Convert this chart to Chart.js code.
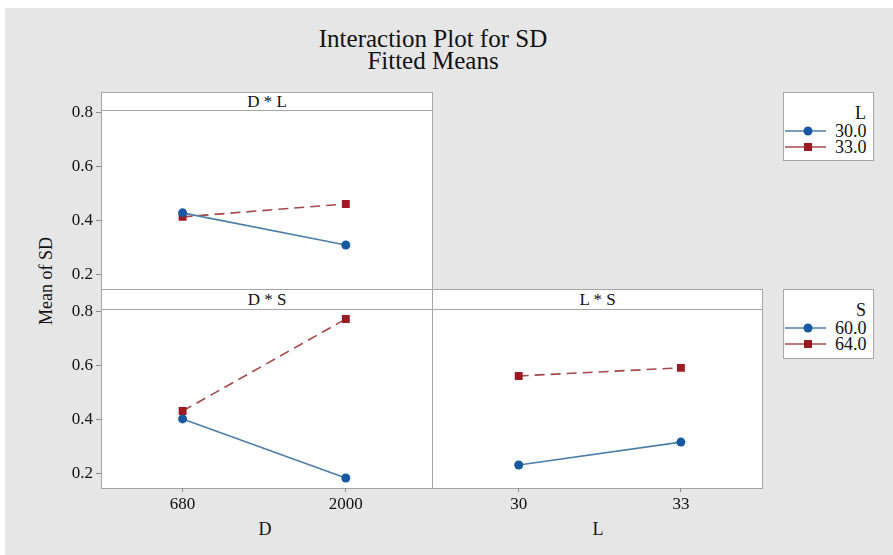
<!DOCTYPE html>
<html>
<head>
<meta charset="utf-8">
<script src="https://cdn.jsdelivr.net/npm/chart.js@4.4.1/dist/chart.umd.min.js"></script>
<style>
  body { margin: 0; background: #fff; font-family: "Liberation Serif", "Times New Roman", serif; color: #111; }
  .abs { position: absolute; }
  #bg { left: 5px; top: 8px; width: 888px; height: 547px; background: #e6e6e6; }
  .frame { background: #fff; border: 1px solid #a6a6a6; box-sizing: border-box; }
  .strip { background: #fff; border: 1px solid #a6a6a6; box-sizing: border-box; text-align: center; font-size: 17px; line-height: 17px; }
  .lab { font-size: 18px; text-align: center; }
  .legend { background: #fff; border: 1px solid #a6a6a6; box-sizing: border-box; font-size: 18px; }
  .legend .ttl { position: absolute; right: 7px; top: 11px; line-height: 18px; }
  .legend .item { position: absolute; left: 0; height: 16px; line-height: 16px; }
  .legend svg { position: absolute; left: 1px; top: 0; }
  .legend span { position: absolute; left: 51px; top: 0; }
  canvas { position: absolute; }
</style>
</head>
<body>
<div id="bg" class="abs"></div>
<div class="abs" style="left:233px;top:28px;width:400px;text-align:center;font-size:25px;line-height:22px;">Interaction Plot for SD<br>Fitted Means</div>

<div class="abs strip" style="left:101px;top:92px;width:332px;height:19px;">D * L</div>
<div class="abs frame" style="left:101px;top:110px;width:332px;height:180px;"></div>
<div class="abs strip" style="left:101px;top:289px;width:332px;height:21px;line-height:19px;">D * S</div>
<div class="abs frame" style="left:101px;top:309px;width:332px;height:180px;"></div>
<div class="abs strip" style="left:432px;top:289px;width:331px;height:21px;line-height:19px;">L * S</div>
<div class="abs frame" style="left:432px;top:309px;width:331px;height:180px;"></div>

<div class="abs lab" style="left:-9px;top:270px;width:110px;transform:rotate(-90deg);line-height:22px;">Mean of SD</div>
<div class="abs lab" style="left:245px;top:519px;width:40px;">D</div>
<div class="abs lab" style="left:578px;top:519px;width:40px;">L</div>

<div class="abs legend" id="legL" style="left:783px;top:92px;width:91px;height:69px;"></div>
<div class="abs legend" id="legS" style="left:783px;top:289px;width:91px;height:70px;"></div>

<canvas id="cDL" width="413" height="210" style="left:20px;top:95px;"></canvas>
<canvas id="cDS" width="413" height="255" style="left:20px;top:295px;"></canvas>
<canvas id="cLS" width="340" height="250" style="left:432px;top:300px;"></canvas>

<script>
// factor levels
var dLevels = ['680', '2000'];
var lLevels = ['30', '33'];
var yTicks = [0.2, 0.4, 0.6, 0.8];

// fitted means
var dl_L30 = [0.430, 0.311];
var dl_L33 = [0.415, 0.463];
var ds_S60 = [0.404, 0.185];
var ds_S64 = [0.433, 0.774];
var ls_S60 = [0.233, 0.318];
var ls_S64 = [0.563, 0.593];

var legendL = ['30.0', '33.0'];
var legendS = ['60.0', '64.0'];

var BLUE_LINE = '#4d7ea6', BLUE_PT = '#1659a0';
var RED_LINE = '#a4484a', RED_PT = '#9c1a22';
var FONT = {family: '"Liberation Serif", "Times New Roman", serif', size: 17};

function blueSet(data) {
  return {data: data, borderColor: BLUE_LINE, borderWidth: 1.6, pointStyle: 'circle',
    pointRadius: 4.5, pointBackgroundColor: BLUE_PT, pointBorderColor: BLUE_PT, pointBorderWidth: 0};
}
function redSet(data) {
  return {data: data, borderColor: RED_LINE, borderWidth: 1.6, borderDash: [10, 6], pointStyle: 'rect',
    pointRadius: 5.6, pointBackgroundColor: RED_PT, pointBorderColor: RED_PT, pointBorderWidth: 0};
}

function makePanel(id, labels, sets, opts) {
  return new Chart(id, {
    type: 'line',
    data: {labels: labels, datasets: sets},
    options: {
      responsive: false,
      animation: false,
      layout: {padding: opts.padding},
      plugins: {legend: {display: false}, tooltip: {enabled: false}},
      scales: {
        x: {
          type: 'category',
          offset: true,
          display: opts.showX,
          border: {display: false},
          grid: {display: true, drawOnChartArea: false, drawTicks: true, tickLength: 4, color: '#8c8c8c', offset: false},
          ticks: {font: FONT, color: '#111', padding: 2, maxRotation: 0},
          afterFit: function (s) { if (opts.showX) s.height = 62; }
        },
        y: {
          min: 0.148, max: 0.811,
          display: opts.showY,
          border: {display: false},
          grid: {display: true, drawOnChartArea: false, drawTicks: true, tickLength: 5, color: '#8c8c8c'},
          afterBuildTicks: function (s) { s.ticks = yTicks.map(function (v) { return {value: v}; }); },
          ticks: {font: FONT, color: '#111', padding: 3, callback: function (v) { return v.toFixed(1); }},
          afterFit: function (s) { if (opts.showY) s.width = 81; }
        }
      }
    }
  });
}

makePanel('cDL', dLevels, [blueSet(dl_L30), redSet(dl_L33)],
  {padding: {top: 15, right: 1, bottom: 16, left: 0}, showX: false, showY: true});
makePanel('cDS', dLevels, [blueSet(ds_S60), redSet(ds_S64)],
  {padding: {top: 14, right: 1, bottom: 0, left: 0}, showX: true, showY: true});
makePanel('cLS', lLevels, [blueSet(ls_S60), redSet(ls_S64)],
  {padding: {top: 9, right: 10, bottom: 0, left: 0}, showX: true, showY: false});

function swatch(kind) {
  if (kind === 'blue') {
    return '<svg width="44" height="16"><line x1="0" y1="8" x2="41" y2="8" stroke="' + BLUE_LINE +
      '" stroke-width="1.6"/><circle cx="23" cy="8" r="4.5" fill="' + BLUE_PT + '"/></svg>';
  }
  return '<svg width="44" height="16"><line x1="0" y1="8" x2="41" y2="8" stroke="' + RED_LINE +
    '" stroke-width="1.6"/><rect x="19" y="4" width="8" height="8" fill="' + RED_PT + '"/></svg>';
}
function buildLegend(elId, title, items) {
  var el = document.getElementById(elId);
  var html = '<div class="ttl">' + title + '</div>';
  html += '<div class="item" style="top:30px;">' + swatch('blue') + '<span>' + items[0] + '</span></div>';
  html += '<div class="item" style="top:46px;">' + swatch('red') + '<span>' + items[1] + '</span></div>';
  el.innerHTML = html;
}
buildLegend('legL', 'L', legendL);
buildLegend('legS', 'S', legendS);
</script>
</body>
</html>
